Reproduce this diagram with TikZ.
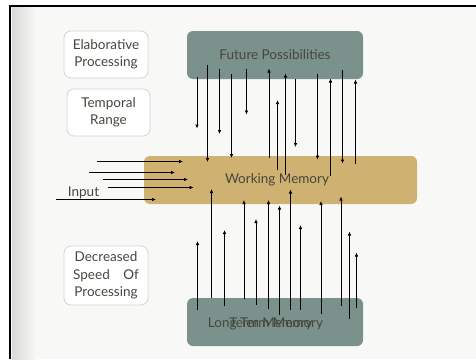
\documentclass[tikz,border=0pt]{standalone}
\usepackage{xcolor}
\usepackage{tikz}
\usepackage{fontspec}
\setmainfont{Lato}
\usetikzlibrary{arrows.meta,shapes,positioning}

\definecolor{slate}{HTML}{7B918B}
\definecolor{sand}{HTML}{CFB172}
\definecolor{inktext}{HTML}{46463E}
\definecolor{paper}{HTML}{F8F8F6}

\tikzset{
  note/.style={rectangle, draw=black!17, fill=white, line width=0.8pt, rounded corners=7pt,
    align=center, text=inktext, inner sep=0pt, minimum width=84pt, minimum height=47pt,
    font=\fontsize{13.5}{17.5}\selectfont},
  memory/.style={rectangle, rounded corners=6pt, inner sep=0pt, minimum width=176pt,
    minimum height=48pt, text=inktext, font=\fontsize{13.5}{15}\selectfont},
  caption/.style={text=inktext, inner sep=0pt, font=\fontsize{13.5}{15}\selectfont},
  flow/.style={-{Latex[length=4pt,width=3.5pt]}, line width=0.7pt}
}

\begin{document}
\begin{tikzpicture}[x=1pt, y=-1pt]
  \useasboundingbox (0,0) rectangle (476,359);
  % slide background
  \fill[paper] (10,6) rectangle (476,359);
  \shade[left color=black!15, right color=paper] (12,7) rectangle (36,359);
  \draw[line width=2pt] (10,359) -- (10,6) -- (476,6);

  % side notes
  \node (elab) [note] at (106,54.5) {Elaborative\\Processing};
  \node (temporal) [note, minimum width=83pt] at (108.5,112.5) {Temporal\\Range};
  \node (speed) [note, minimum height=59pt] at (106,275.5) {Decreased\\Speed\quad Of\\Processing};

  % memory stores
  \node (future) [memory, fill=slate] at (275,55) {Future Possibilities};
  \node (working) [memory, fill=sand, minimum width=273pt] at (280.5,180) {\hspace*{-7pt}Working Memory};
  \node (longterm) [memory, fill=slate] at (275,322) {};
  \node (ltmA) [caption] at (265.5,324) {Long Term Memory};
  \node (ltmB) [caption] at (271,324) {Term Memory};

  % input
  \node (input) [caption] at (83.5,193) {Input};
  \foreach \y/\a/\b in {161.5/96.5/183, 172.5/89/175, 179.5/102.5/188, 187.5/107.5/193.5, 199.5/56/156}
    {\coordinate (tail) at (\a,\y); \coordinate (tip) at (\b,\y); \draw[flow] (tail) -- (tip);}

  % future <-> working
  \foreach \x/\a/\b in {197/77/128.5, 207.5/65/162, 219.5/69/134, 231.5/74/158, 246.5/69/114.5,
      269/158/68.5, 277.5/170/100, 285.5/175/73.5, 295.5/79/147, 317.5/74/159.5,
      330.5/176/78.5, 342.5/70/163.5, 355.5/164/79.5}
    {\coordinate (tail) at (\x,\a); \coordinate (tip) at (\x,\b); \draw[flow] (tail) -- (tip);}

  % long term -> working
  \foreach \x/\a/\b in {197.5/310/241, 211.5/298/189, 224.5/306/230, 244/299/200, 256/304.5/219,
      268.5/309/200, 279.5/315/205.5, 290.5/309.5/189.5, 300.5/309.5/225, 321/313.5/201,
      341/306/196.5, 349.5/318.5/231.5, 356.5/308/252.5}
    {\coordinate (tail) at (\x,\a); \coordinate (tip) at (\x,\b); \draw[flow] (tail) -- (tip);}
\end{tikzpicture}
\end{document}
